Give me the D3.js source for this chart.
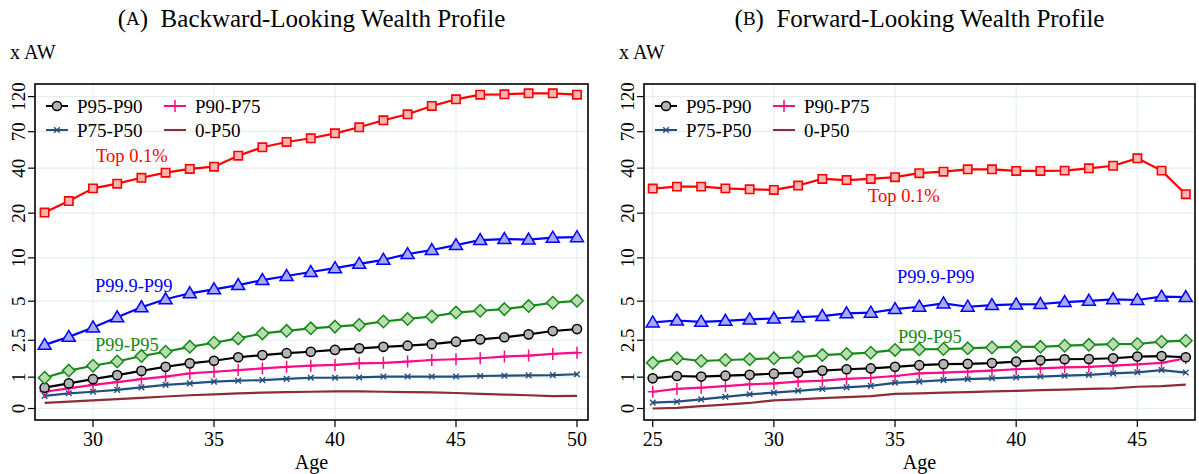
<!DOCTYPE html>
<html><head><meta charset="utf-8">
<script src="https://cdn.jsdelivr.net/npm/d3@7"></script>
<style>
body{margin:0;background:#fff;}
svg{display:block;}
text{font-family:"Liberation Serif","Times New Roman",serif;fill:#000;}
</style></head>
<body>
<svg id="chart" width="1199" height="474"></svg>
<script>
// ---------- DATA ----------
const agesA = [28,29,30,31,32,33,34,35,36,37,38,39,40,41,42,43,44,45,46,47,48,49,50];
const agesB = [25,26,27,28,29,30,31,32,33,34,35,36,37,38,39,40,41,42,43,44,45,46,47];

const topA    = [20.2,24.1,29.3,31.5,34.5,37.3,39.5,40.9,48.4,55.1,59.8,63.3,68.3,74.9,83.4,91.5,103.9,115.1,123.6,124.3,126.2,126.2,123.6];
const p999A   = [2.28,2.67,3.18,3.81,4.52,5.16,5.69,6.07,6.5,7.04,7.51,8.0,8.5,9.1,9.7,10.6,11.3,12.2,13.2,13.4,13.3,13.7,13.8];
const p99A    = [0.98,1.23,1.41,1.57,1.79,1.97,2.19,2.38,2.59,2.85,2.99,3.13,3.23,3.33,3.54,3.70,3.86,4.13,4.26,4.38,4.61,4.87,5.03];
const p95A    = [0.65,0.79,0.93,1.07,1.22,1.37,1.50,1.60,1.74,1.83,1.91,1.97,2.05,2.12,2.19,2.24,2.31,2.43,2.54,2.65,2.80,2.98,3.09];
const p90A    = [0.52,0.63,0.74,0.83,0.93,1.02,1.13,1.19,1.25,1.31,1.37,1.41,1.44,1.50,1.52,1.57,1.63,1.66,1.70,1.77,1.81,1.88,1.93];
const p75A    = [0.39,0.47,0.52,0.58,0.66,0.74,0.79,0.85,0.88,0.90,0.94,0.98,0.98,0.99,1.02,1.02,1.02,1.02,1.04,1.05,1.06,1.07,1.10];
const p50A    = [0.17,0.21,0.25,0.29,0.33,0.37,0.41,0.44,0.47,0.49,0.51,0.52,0.53,0.53,0.52,0.51,0.50,0.48,0.45,0.43,0.41,0.38,0.39];

const topB    = [29.2,30.1,30.1,29.3,28.9,28.6,30.6,33.9,33.3,33.9,34.8,37.0,37.9,39.3,39.3,38.3,38.3,38.5,39.9,41.5,46.5,38.5,26.8];
const p999B   = [3.48,3.60,3.52,3.58,3.67,3.73,3.81,3.89,4.08,4.12,4.38,4.56,4.82,4.56,4.69,4.74,4.77,4.93,5.03,5.16,5.10,5.39,5.35];
const p99B    = [1.52,1.70,1.59,1.63,1.66,1.70,1.74,1.83,1.88,1.93,2.05,2.08,2.09,2.12,2.16,2.19,2.19,2.24,2.28,2.31,2.32,2.43,2.48];
const p95B    = [0.96,1.04,1.02,1.05,1.08,1.12,1.16,1.23,1.28,1.31,1.37,1.43,1.47,1.48,1.51,1.57,1.62,1.66,1.67,1.70,1.77,1.79,1.74];
const p90B    = [0.52,0.61,0.65,0.70,0.76,0.79,0.85,0.88,0.94,0.98,1.04,1.13,1.16,1.19,1.23,1.28,1.31,1.35,1.37,1.41,1.46,1.52,1.70];
const p75B    = [0.18,0.21,0.28,0.36,0.44,0.49,0.55,0.61,0.66,0.71,0.81,0.85,0.90,0.93,0.96,0.99,1.02,1.05,1.08,1.13,1.17,1.25,1.16];
const p50B    = [0.00,0.02,0.07,0.12,0.17,0.25,0.28,0.32,0.35,0.38,0.45,0.47,0.49,0.51,0.53,0.55,0.57,0.59,0.61,0.63,0.68,0.70,0.75];

const yTicks = [0,1,2.5,5,10,20,40,70,120];
const xTicksA = [30,35,40,45,50];
const xTicksB = [25,30,35,40,45];
const titles = [["A","Backward-Looking Wealth Profile"],["B","Forward-Looking Wealth Profile"]];
const legendNames = ["P95-P90","P90-P75","P75-P50","0-P50"];
const labelNames = ["Top 0.1%","P99.9-P99","P99-P95"];

// ---------- STYLE ----------
const seriesStyle = {
  top:  {stroke:"#ff0000", fill:"#ffb4b4", sym:"square"},
  p999: {stroke:"#0000ff", fill:"#a8a8f4", sym:"triangle"},
  p99:  {stroke:"#168a16", fill:"#b9dcb2", sym:"diamond"},
  p95:  {stroke:"#000000", fill:"#b4b4b4", sym:"circle"},
  p90:  {stroke:"#ff0a87", fill:"none",    sym:"plus"},
  p75:  {stroke:"#22507e", fill:"none",    sym:"x"},
  p50:  {stroke:"#8b2c36", fill:"none",    sym:"none"}
};

const svg = d3.select("#chart");
const gridColor = "#e6eef0";

function tf(v){ return Math.asinh(v/2); }

function drawMarker(g, sym, st, x, y){
  if(sym==="square"){
    g.append("path").attr("d", d3.symbol(d3.symbolSquare, 70)()).attr("transform",`translate(${x},${y})`)
      .attr("fill",st.fill).attr("stroke",st.stroke).attr("stroke-width",1.6);
  } else if(sym==="triangle"){
    g.append("path").attr("d", `M${x},${y-6.5}L${x+6.5},${y+4.5}L${x-6.5},${y+4.5}Z`)
      .attr("fill",st.fill).attr("stroke",st.stroke).attr("stroke-width",1.5).attr("stroke-linejoin","miter");
  } else if(sym==="diamond"){
    g.append("path").attr("d", `M${x},${y-6.2}L${x+6.2},${y}L${x},${y+6.2}L${x-6.2},${y}Z`)
      .attr("fill",st.fill).attr("stroke",st.stroke).attr("stroke-width",1.5);
  } else if(sym==="circle"){
    g.append("circle").attr("cx",x).attr("cy",y).attr("r",4.6)
      .attr("fill",st.fill).attr("stroke",st.stroke).attr("stroke-width",1.5);
  } else if(sym==="plus"){
    g.append("path").attr("d",`M${x-5},${y}H${x+5}M${x},${y-6}V${y+6}`)
      .attr("stroke",st.stroke).attr("stroke-width",1.5).attr("fill","none");
  } else if(sym==="x"){
    g.append("path").attr("d",`M${x-2.8},${y-2.8}L${x+2.8},${y+2.8}M${x-2.8},${y+2.8}L${x+2.8},${y-2.8}`)
      .attr("stroke",st.stroke).attr("stroke-width",1.4).attr("fill","none");
  }
}

function panel(cfg){
  const {left,right,top,bottom,xDomain,xTicks,ages,series,title,labels,legendX} = cfg;
  const x = d3.scaleLinear().domain(xDomain).range([left,right]);
  const ys = d3.scaleLinear().domain([-0.1765, 4.981]).range([bottom,top]);
  const y = v => ys(tf(v));
  const g = svg.append("g");

  // grid
  g.selectAll(".gy").data(yTicks).join("line")
    .attr("x1",left).attr("x2",right).attr("y1",d=>y(d)).attr("y2",d=>y(d))
    .attr("stroke",gridColor).attr("stroke-width",1.2);
  g.selectAll(".gx").data(xTicks).join("line")
    .attr("y1",top).attr("y2",bottom).attr("x1",d=>x(d)).attr("x2",d=>x(d))
    .attr("stroke",gridColor).attr("stroke-width",1.2);

  // y axis ticks & labels
  g.selectAll(".ty").data(yTicks).join("line")
    .attr("x1",left-7).attr("x2",left).attr("y1",d=>y(d)).attr("y2",d=>y(d))
    .attr("stroke","#000").attr("stroke-width",1.2);
  g.selectAll(".ly").data(yTicks).join("text")
    .attr("transform",d=>`translate(${left-17},${y(d)}) rotate(-90)`)
    .attr("text-anchor","middle").attr("dominant-baseline","central")
    .style("font-size","19px").text(d=>d);
  // x axis
  g.selectAll(".tx").data(xTicks).join("line")
    .attr("x1",d=>x(d)).attr("x2",d=>x(d)).attr("y1",bottom).attr("y2",bottom+7)
    .attr("stroke","#000").attr("stroke-width",1.2);
  g.selectAll(".lx").data(xTicks).join("text")
    .attr("x",d=>x(d)).attr("y",bottom+19).attr("text-anchor","middle").attr("dominant-baseline","central")
    .style("font-size","20px").text(d=>d);
  g.append("text").attr("x",(left+right)/2).attr("y",bottom+42).attr("text-anchor","middle")
    .attr("dominant-baseline","central").style("font-size","20px").text("Age");

  // series
  const order = ["p50","p75","p90","p95","p99","p999","top"];
  order.forEach(k=>{
    const st = seriesStyle[k];
    const vals = series[k];
    const line = d3.line().x((d,i)=>x(ages[i])).y(d=>y(d));
    g.append("path").datum(vals).attr("d",line).attr("fill","none")
      .attr("stroke",st.stroke).attr("stroke-width",2.2).attr("stroke-linejoin","round");
    if(st.sym!=="none"){
      vals.forEach((v,i)=>drawMarker(g, st.sym, st, x(ages[i]), y(v)));
    }
  });

  // frame
  g.append("rect").attr("x",left).attr("y",top).attr("width",right-left).attr("height",bottom-top)
    .attr("fill","none").attr("stroke","#000").attr("stroke-width",1.6);

  // title
  const t = svg.append("text").attr("x",(left+right)/2).attr("y",18).attr("text-anchor","middle")
    .attr("dominant-baseline","central").style("font-size","25px");
  t.append("tspan").text("(");
  t.append("tspan").style("font-size","19px").text(title[0]);
  t.append("tspan").text(")\u2002" + title[1]);

  // y axis unit
  svg.append("text").attr("x",left-25).attr("y",52).attr("dominant-baseline","central")
    .style("font-size","20px").text("x AW");

  // legend
  const lx = legendX;
  const legendKeys = ["p95","p90","p75","p50"];
  const pos = [[lx,106],[lx+118,106],[lx,130],[lx+118,130]];
  legendKeys.forEach((k,i)=>{
    const st = seriesStyle[k];
    const [px,py] = pos[i];
    g.append("line").attr("x1",px).attr("x2",px+22).attr("y1",py).attr("y2",py)
      .attr("stroke",st.stroke).attr("stroke-width",2);
    if(st.sym!=="none") drawMarker(g, st.sym, st, px+11, py);
    g.append("text").attr("x",px+31).attr("y",py).attr("dominant-baseline","central")
      .style("font-size","19px").text(legendNames[i]);
  });

  // inline labels
  labels.forEach((L,i)=>{
    g.append("text").attr("x",L.x).attr("y",L.y).attr("dominant-baseline","central")
      .style("font-size","18.5px").style("fill",L.color).text(labelNames[i]);
  });
}

panel({
  left:35,right:588,top:84,bottom:420,
  xDomain:[27.603,50.455], xTicks:xTicksA, ages:agesA,
  series:{top:topA,p999:p999A,p99:p99A,p95:p95A,p90:p90A,p75:p75A,p50:p50A},
  title:titles[0], legendX:46,
  labels:[{x:96,y:156,color:"#ff0000"},{x:95,y:286,color:"#0000ff"},{x:95,y:345,color:"#168a16"}]
});
panel({
  left:644,right:1195,top:84,bottom:420,
  xDomain:[24.64,47.38], xTicks:xTicksB, ages:agesB,
  series:{top:topB,p999:p999B,p99:p99B,p95:p95B,p90:p90B,p75:p75B,p50:p50B},
  title:titles[1], legendX:655,
  labels:[{x:868,y:196,color:"#ff0000"},{x:897,y:277,color:"#0000ff"},{x:898,y:337,color:"#168a16"}]
});
</script>
</body></html>
